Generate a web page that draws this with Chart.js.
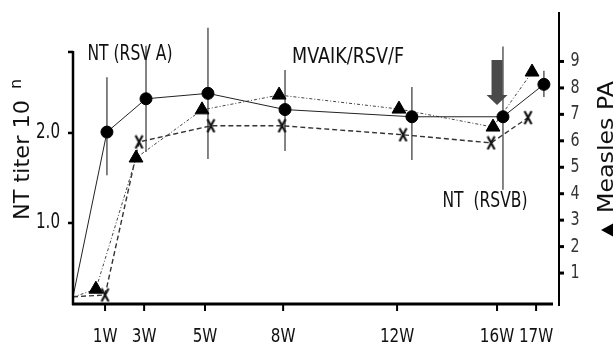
<!DOCTYPE html>
<html>
<head>
<meta charset="utf-8">
<script src="https://cdn.jsdelivr.net/npm/chart.js@4.4.1/dist/chart.umd.min.js"></script>
<style>
  html, body { margin: 0; padding: 0; background: #fff; }
</style>
</head>
<body>
<canvas id="myChart" width="616" height="352"></canvas>
<script>
'use strict';

// ******** DATA ********

let weekLabels = ['1W', '3W', '5W', '8W', '12W', '16W', '17W'];
let weekTickPos = [1.0, 2.45, 4.71, 7.61, 11.84, 15.55, 17.0]; // where each week tick sits on the drawn axis
let leftTicks = [1.0, 2.0];
let leftAxisTop = 2.9;
let rightTicks = [1, 2, 3, 4, 5, 6, 7, 8, 9];

// common starting point at the origin corner
let startX = -0.19;
let startLeft = 0.18;
let startRight = 0.09;

// NT (RSV A) - circles, left axis, with error bars
let rsvAx = [1.07, 2.52, 4.82, 7.68, 12.39, 15.77, 17.29];
let rsvA = [2.01, 2.38, 2.44, 2.26, 2.18, 2.18, 2.54];
let rsvAHigh = [2.62, 2.97, 3.17, 2.70, 2.51, 2.96, 2.69];
let rsvALow = [1.53, 1.79, 1.71, 1.80, 1.70, 1.37, 2.40];

// Measles PA - triangles, right axis
let measlesX = [0.66, 2.15, 4.60, 7.46, 11.91, 15.40, 16.85];
let measles = [0.39, 5.35, 7.17, 7.73, 7.20, 6.52, 8.60];

// NT (RSV B) - x marks, left axis
let rsvBx = [1.00, 2.26, 4.93, 7.57, 12.06, 15.33, 16.70];
let rsvB = [0.20, 1.90, 2.08, 2.08, 1.98, 1.89, 2.17];


// ******** HELPERS ********

let fontFamily = '"DejaVu Sans", sans-serif';

function toPoints(xs, ys, y0) {
  let pts = [{ x: startX, y: y0 }];
  for (let i = 0; i < xs.length; i++) {
    pts.push({ x: xs[i], y: ys[i] });
  }
  return pts;
}

function drawText(c, str, x, y, size, opts) {
  opts = opts || {};
  c.save();
  c.font = (opts.weight || 'normal') + ' ' + size + 'px ' + fontFamily;
  c.fillStyle = opts.color || '#111';
  let sx = opts.sx || 1;
  if (opts.width) {
    sx = opts.width / c.measureText(str).width;
  }
  c.translate(x, y);
  if (opts.angle) c.rotate(opts.angle);
  c.scale(sx, 1);
  c.textAlign = opts.align || 'center';
  c.textBaseline = 'middle';
  c.fillText(str, 0, 0);
  c.restore();
}

function line(c, x1, y1, x2, y2, w) {
  c.lineWidth = w;
  c.beginPath();
  c.moveTo(x1, y1);
  c.lineTo(x2, y2);
  c.stroke();
}

// x-shaped marker
let xMark = document.createElement('canvas');
xMark.width = 11;
xMark.height = 15;
let xc = xMark.getContext('2d');
xc.strokeStyle = '#111';
xc.lineWidth = 2.2;
xc.beginPath();
xc.moveTo(2, 1); xc.lineTo(9, 14);
xc.moveTo(9, 1); xc.lineTo(2, 14);
xc.stroke();

function hideFirst(r) {
  return function (ctx) { return ctx.dataIndex === 0 ? 0 : r; };
}


// ******** PLUGIN: axes, error bars, text ********

let paperPlugin = {
  id: 'paper',
  beforeDatasetsDraw(chart) {
    let c = chart.ctx;
    let xs = chart.scales.x;
    let yl = chart.scales.yL;
    c.save();
    c.strokeStyle = '#333';
    for (let i = 0; i < rsvAx.length; i++) {
      let px = xs.getPixelForValue(rsvAx[i]);
      line(c, px, yl.getPixelForValue(rsvAHigh[i]), px, yl.getPixelForValue(rsvALow[i]), 1.2);
    }
    c.restore();
  },
  afterDraw(chart) {
    let c = chart.ctx;
    let a = chart.chartArea;
    let xs = chart.scales.x;
    let yl = chart.scales.yL;
    let yr = chart.scales.yR;
    c.save();
    c.strokeStyle = '#000';
    c.lineCap = 'butt';

    // left axis
    let topY = yl.getPixelForValue(leftAxisTop);
    line(c, a.left, a.bottom + 1, a.left, topY - 1, 2.5);
    line(c, a.left - 5, topY, a.left, topY, 2.5);
    for (let t of leftTicks) {
      let py = yl.getPixelForValue(t);
      line(c, a.left - 5, py, a.left, py, 2.5);
      drawText(c, t.toFixed(1), 60, py, 21, { align: 'right', sx: 0.72 });
    }

    // bottom axis
    line(c, a.left - 1, a.bottom, a.right - 6, a.bottom, 3);
    for (let i = 0; i < weekTickPos.length; i++) {
      let px = xs.getPixelForValue(weekTickPos[i]);
      line(c, px, a.bottom, px, a.bottom + 7, 2);
      drawText(c, weekLabels[i], px, 337, 20, { sx: 0.76 });
    }

    // right axis
    line(c, a.right, a.top, a.right, a.bottom + 2, 2);
    for (let t of rightTicks) {
      let py = yr.getPixelForValue(t);
      line(c, a.right, py, a.right + 5, py, 3);
      drawText(c, String(t), 575, py, 19, { sx: 0.75, color: '#333' });
    }

    // axis titles
    drawText(c, 'NT titer 10', 23, 160, 22, { angle: -Math.PI / 2, width: 120 });
    drawText(c, 'n', 17, 84, 16, { angle: -Math.PI / 2 });
    drawText(c, 'Measles PA', 607, 147, 22, { angle: -Math.PI / 2, width: 132 });
    c.fillStyle = '#000';
    c.beginPath();
    c.moveTo(601, 230);
    c.lineTo(613, 223.5);
    c.lineTo(613, 236.5);
    c.closePath();
    c.fill();

    // labels inside the plot
    drawText(c, 'NT (RSV A)', 130, 54, 22, { width: 85 });
    drawText(c, 'MVAIK/RSV/F', 348, 57, 22, { width: 112 });
    drawText(c, 'NT  (RSVB)', 485, 202, 21, { width: 85 });

    // boost arrow at 16W
    let cx = xs.getPixelForValue(weekTickPos[5]);
    let tip = yl.getPixelForValue(2.31);
    c.fillStyle = '#4a4a4a';
    c.beginPath();
    c.moveTo(cx - 5.5, tip - 45);
    c.lineTo(cx + 5.5, tip - 45);
    c.lineTo(cx + 5.5, tip - 10);
    c.lineTo(cx + 10.5, tip - 10);
    c.lineTo(cx, tip);
    c.lineTo(cx - 10.5, tip - 10);
    c.lineTo(cx - 5.5, tip - 10);
    c.closePath();
    c.fill();

    c.restore();
  }
};


// ******** CHART ********

let ctx = document.getElementById('myChart');

let myChartObj = {
  type: 'line',
  data: {
    datasets: [
      {
        label: 'NT (RSV A)',
        data: toPoints(rsvAx, rsvA, startLeft),
        yAxisID: 'yL',
        borderColor: '#222',
        borderWidth: 1,
        pointStyle: 'circle',
        pointRadius: hideFirst(6),
        pointBackgroundColor: '#000',
        pointBorderColor: '#000',
        tension: 0
      },
      {
        label: 'Measles PA',
        data: toPoints(measlesX, measles, startRight),
        yAxisID: 'yR',
        borderColor: '#444',
        borderWidth: 1,
        borderDash: [3, 2, 1, 2],
        pointStyle: 'triangle',
        pointRadius: hideFirst(8),
        pointBackgroundColor: '#000',
        pointBorderColor: '#000',
        tension: 0
      },
      {
        label: 'NT (RSV B)',
        data: toPoints(rsvBx, rsvB, startLeft),
        yAxisID: 'yL',
        borderColor: '#333',
        borderWidth: 1.4,
        borderDash: [5, 3],
        pointStyle: function (c) { return c.dataIndex === 0 ? 'circle' : xMark; },
        pointRadius: hideFirst(5),
        tension: 0
      }
    ]
  },
  options: {
    responsive: false,
    animation: false,
    devicePixelRatio: 1,
    layout: { padding: { top: 12, left: 0, right: 0, bottom: 0 } },
    plugins: {
      legend: { display: false },
      tooltip: { enabled: false }
    },
    scales: {
      x: {
        type: 'linear',
        min: -0.19,
        max: 17.85,
        grid: { display: false },
        border: { display: false },
        ticks: { display: false },
        afterFit(s) { s.height = 48; }
      },
      yL: {
        type: 'linear',
        position: 'left',
        min: 0.1,
        max: 3.344,
        grid: { display: false },
        border: { display: false },
        ticks: { display: false },
        afterFit(s) { s.width = 73; }
      },
      yR: {
        type: 'linear',
        position: 'right',
        min: -0.17,
        max: 10.87,
        grid: { display: false },
        border: { display: false },
        ticks: { display: false },
        afterFit(s) { s.width = 57; }
      }
    }
  },
  plugins: [paperPlugin]
};

new Chart(ctx, myChartObj);
</script>
</body>
</html>
